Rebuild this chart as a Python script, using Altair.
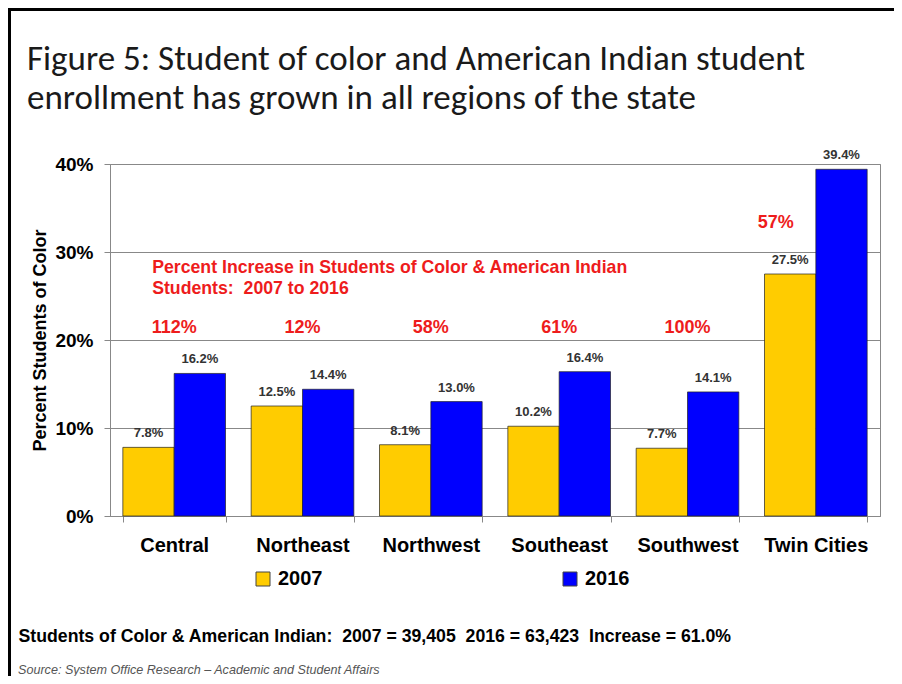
import altair as alt
import pandas as pd

regions = ["Central", "Northeast", "Northwest", "Southeast", "Southwest", "Twin Cities"]
pct_2007 = [7.8, 12.5, 8.1, 10.2, 7.7, 27.5]
pct_2016 = [16.2, 14.4, 13.0, 16.4, 14.1, 39.4]
increase = ["112%", "12%", "58%", "61%", "100%", "57%"]
years = ["2007", "2016"]
colors = ["#FFCC00", "#0000FF"]
y_ticks = [0, 10, 20, 30, 40]

title_lines = ["Figure 5: Student of color and American Indian student",
               "enrollment has grown in all regions of the state"]
note_lines = ["Percent Increase in Students of Color & American Indian",
              "Students:\u00a0 2007 to 2016"]
footnote = ("Students of Color & American Indian:\u00a0 2007 = 39,405\u00a0 "
            "2016 = 63,423\u00a0 Increase = 61.0%")
source = "Source: System Office Research \u2013 Academic and Student Affairs"

FONT = "Arial, Liberation Sans, sans-serif"

rows = []
for r, a, b in zip(regions, pct_2007, pct_2016):
    rows.append({"region": r, "year": "2007", "pct": a, "label": f"{a:.1f}%"})
    rows.append({"region": r, "year": "2016", "pct": b, "label": f"{b:.1f}%"})
df = pd.DataFrame(rows)
inc_df = pd.DataFrame({"region": regions, "inc": increase})
one = pd.DataFrame({"a": [0]})

x_enc = alt.X(
    "region:N",
    scale=alt.Scale(paddingInner=0.2, paddingOuter=0.1),
    axis=alt.Axis(
        labelAngle=0, labelFont=FONT, labelFontSize=20, labelFontWeight="bold",
        labelColor="black", labelPadding=13, tickBand="extent", tickSize=6,
        tickColor="#888", domainColor="#888", grid=False,
        title=footnote, titleFont=FONT, titleFontSize=17.7, titleFontWeight="bold",
        titleColor="black", titleAnchor="start", titleAlign="left",
        titleBaseline="middle", titleX=-92, titleY=120,
    ),
)
y_enc = alt.Y(
    "pct:Q",
    scale=alt.Scale(domain=[0, 40]),
    axis=alt.Axis(
        values=y_ticks, labelExpr="datum.value + '%'", labelFont=FONT,
        labelFontSize=19, labelFontWeight="bold", labelColor="black",
        labelPadding=11, tickSize=6, tickColor="#888", domainColor="#888",
        gridColor="#888", title="Percent Students of Color", titleFont=FONT,
        titleFontSize=18, titleFontWeight="bold", titleColor="black",
        titlePadding=5,
    ),
)
xoff = alt.XOffset("year:N", scale=alt.Scale(paddingInner=0, paddingOuter=0))

base = alt.Chart(df)
bars = base.mark_bar(stroke="#222", strokeWidth=0.7).encode(
    x=x_enc, xOffset=xoff, y=y_enc,
    color=alt.Color(
        "year:N", scale=alt.Scale(domain=years, range=colors),
        legend=alt.Legend(
            title=None, orient="none", legendX=143, legendY=405,
            direction="horizontal", symbolType="square", symbolSize=196,
            symbolStrokeColor="#444", symbolStrokeWidth=1, labelFont=FONT,
            labelFontSize=20, labelFontWeight="bold", labelColor="black",
            labelOffset=5, columnPadding=237, padding=0,
        ),
    ),
)
labels = base.mark_text(
    baseline="alphabetic", dy=-10, font=FONT, fontSize=13, fontWeight="bold",
    color="#333"
).encode(x="region:N", xOffset=xoff, y="pct:Q", text="label:N")

inc_main = alt.Chart(inc_df).transform_filter(
    alt.datum.region != "Twin Cities"
).mark_text(
    baseline="alphabetic", font=FONT, fontSize=18, fontWeight="bold", color="#EE1C1C"
).encode(x="region:N", y=alt.datum(20.8), text="inc:N")

inc_tc = alt.Chart(inc_df).transform_filter(
    alt.datum.region == "Twin Cities"
).mark_text(
    baseline="alphabetic", dx=-40, font=FONT, fontSize=18, fontWeight="bold",
    color="#EE1C1C"
).encode(x="region:N", y=alt.datum(32.7), text="inc:N")

note = alt.Chart(one).mark_text(
    align="left", baseline="alphabetic", dx=-22, lineHeight=21, font=FONT,
    fontSize=17.7, fontWeight="bold", color="#EE1C1C", text=note_lines
).encode(x=alt.datum("Central"), y=alt.datum(27.6))

heading = alt.Chart(one).mark_text(
    align="left", baseline="alphabetic", lineHeight=39,
    font="Carlito, Open Sans, sans-serif", fontSize=35, color="#1a1a1a",
    text=title_lines
).encode(x=alt.value(-83), y=alt.value(-94))

src = alt.Chart(one).mark_text(
    align="left", baseline="alphabetic", font=FONT, fontSize=12.6, fontStyle="italic",
    color="#555", text=source
).encode(x=alt.value(-92), y=alt.value(510))

frame_top = alt.Chart(one).mark_rule(color="black", strokeWidth=3).encode(
    x=alt.value(-104), x2=alt.value(800), y=alt.value(-154.5)
)
frame_left = alt.Chart(one).mark_rule(color="black", strokeWidth=3).encode(
    x=alt.value(-100.5), y=alt.value(-160), y2=alt.value(530)
)

chart = alt.layer(
    bars, labels, inc_main, inc_tc, note, heading, src, frame_top, frame_left
).properties(
    width=770, height=352,
    autosize=alt.AutoSizeParams(type="none"),
    padding={"left": 102, "top": 156, "right": 14, "bottom": 160},
    background="white",
).configure_view(stroke="#888", strokeWidth=1)

chart.save("out.html", embed_options={"renderer": "svg", "actions": False})
